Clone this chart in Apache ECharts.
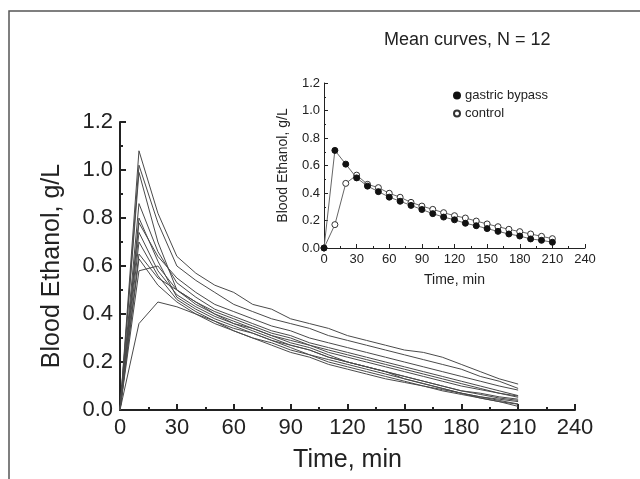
<!DOCTYPE html>
<html><head><meta charset="utf-8">
<script src="https://cdn.jsdelivr.net/npm/echarts@6/dist/echarts.min.js"></script>
<style>html,body{margin:0;padding:0;background:#fff}#c{width:640px;height:479px}</style>
</head><body><div id="c"></div>
<script>
// Sampling times (min)
const times = [0,10,20,30,40,50,60,70,80,90,100,110,120,130,140,150,160,170,180,190,200,210];
// Individual subject curves (g/L)
const subj1  = [0,1.08,0.82,0.64,0.57,0.52,0.49,0.44,0.42,0.38,0.36,0.34,0.31,0.29,0.27,0.25,0.24,0.22,0.19,0.16,0.13,0.108];
const subj2  = [0,1.02,0.78,0.60,0.54,0.49,0.44,0.41,0.38,0.36,0.34,0.31,0.29,0.27,0.25,0.23,0.21,0.19,0.17,0.14,0.12,0.09];
const subj3  = [0,0.99,0.70,0.50,0.45,0.40,0.36,0.34,0.31,0.28,0.26,0.23,0.20,0.18,0.16,0.13,0.11,0.09,0.07,0.05,0.035,0.015];
const subj4  = [0,0.86,0.66,0.53,0.47,0.42,0.39,0.36,0.33,0.31,0.28,0.26,0.24,0.22,0.20,0.18,0.16,0.14,0.12,0.10,0.08,0.06];
const subj5  = [0,0.80,0.62,0.47,0.42,0.38,0.35,0.32,0.29,0.26,0.23,0.21,0.19,0.17,0.15,0.13,0.11,0.09,0.07,0.055,0.04,0.025];
const subj6  = [0,0.78,0.64,0.55,0.49,0.44,0.41,0.38,0.35,0.33,0.30,0.28,0.26,0.24,0.22,0.20,0.18,0.16,0.14,0.12,0.10,0.083];
const subj7  = [0,0.74,0.58,0.48,0.43,0.39,0.36,0.33,0.30,0.27,0.25,0.22,0.20,0.18,0.16,0.14,0.12,0.10,0.08,0.07,0.055,0.045];
const subj8  = [0,0.70,0.56,0.46,0.41,0.37,0.33,0.30,0.27,0.24,0.22,0.19,0.17,0.15,0.13,0.115,0.10,0.08,0.065,0.05,0.035,0.024];
const subj9  = [0,0.65,0.55,0.50,0.45,0.41,0.38,0.35,0.32,0.30,0.27,0.25,0.23,0.21,0.19,0.17,0.15,0.13,0.11,0.09,0.07,0.058];
const subj10 = [0,0.63,0.52,0.45,0.40,0.36,0.33,0.30,0.28,0.25,0.23,0.20,0.18,0.16,0.14,0.12,0.10,0.085,0.07,0.055,0.045,0.035];
const subj11 = [0,0.58,0.60,0.50,0.44,0.40,0.37,0.34,0.31,0.29,0.27,0.24,0.22,0.20,0.18,0.16,0.14,0.12,0.10,0.085,0.07,0.053];
const subj12 = [0,0.36,0.45,0.43,0.40,0.37,0.34,0.32,0.29,0.27,0.25,0.22,0.20,0.18,0.16,0.14,0.12,0.10,0.08,0.065,0.05,0.04];
const subjects = [subj1,subj2,subj3,subj4,subj5,subj6,subj7,subj8,subj9,subj10,subj11,subj12];
// Mean curves (inset)
const bypassMean  = [0,0.71,0.61,0.51,0.45,0.41,0.37,0.34,0.31,0.28,0.25,0.225,0.205,0.18,0.162,0.141,0.121,0.102,0.087,0.066,0.056,0.042];
const controlMean = [0,0.17,0.47,0.53,0.463,0.439,0.398,0.369,0.332,0.305,0.281,0.257,0.235,0.218,0.196,0.175,0.155,0.136,0.119,0.102,0.085,0.068];
const xTicks = {min:0, max:240, interval:30};
const yTicks = {min:0, max:1.2, interval:0.2};

const pairs = v => times.map((t,i)=>[t,v[i]]);
const FONT = '"Liberation Sans", Arial, sans-serif';
const TXT = '#222';

function valAxisX(gi, fs, name, nameFs, gap, lw, tickLen, margin){
  return {type:'value', gridIndex:gi, min:xTicks.min, max:xTicks.max, interval:xTicks.interval,
    name:name, nameLocation:'middle', nameGap:gap,
    nameTextStyle:{fontFamily:FONT, fontSize:nameFs, color:TXT},
    axisLine:{show:true, onZero:false, lineStyle:{color:'#222', width:lw}},
    axisTick:{show:true, inside:true, length:tickLen, lineStyle:{color:'#222', width:lw}},
    minorTick:{show:true, splitNumber:2, length:tickLen/2, lineStyle:{color:'#222', width:lw}},
    axisLabel:{fontFamily:FONT, fontSize:fs, color:TXT, margin:margin, showMinLabel:true, showMaxLabel:true},
    splitLine:{show:false}};
}
function valAxisY(gi, fs, name, nameFs, gap, lw, tickLen, margin){
  return {type:'value', gridIndex:gi, min:yTicks.min, max:yTicks.max, interval:yTicks.interval,
    name:name, nameLocation:'middle', nameGap:gap,
    nameTextStyle:{fontFamily:FONT, fontSize:nameFs, color:TXT},
    axisLine:{show:true, onZero:false, lineStyle:{color:'#222', width:lw}},
    axisTick:{show:true, inside:true, length:tickLen, lineStyle:{color:'#222', width:lw}},
    minorTick:{show:true, splitNumber:2, length:tickLen/2, lineStyle:{color:'#222', width:lw}},
    axisLabel:{fontFamily:FONT, fontSize:fs, color:TXT, margin:margin, formatter:v=>v.toFixed(1), showMinLabel:true, showMaxLabel:true},
    splitLine:{show:false}};
}

const series = subjects.map((s,k)=>({type:'line', xAxisIndex:0, yAxisIndex:0, data:pairs(s),
  showSymbol:false, symbol:'none', lineStyle:{color:'#4a4a4a', width:1}, silent:true, z:2}));
series.push({name:'gastric bypass', type:'line', xAxisIndex:1, yAxisIndex:1, data:pairs(bypassMean),
  symbol:'circle', symbolSize:6, showSymbol:true, itemStyle:{color:'#111', borderColor:'#111', borderWidth:1},
  lineStyle:{color:'#666', width:1}, z:4});
series.push({name:'control', type:'line', xAxisIndex:1, yAxisIndex:1, data:pairs(controlMean),
  symbol:'circle', symbolSize:6, showSymbol:true, itemStyle:{color:'#fff', borderColor:'#333', borderWidth:1},
  lineStyle:{color:'#666', width:1}, z:3});

const chart = echarts.init(document.getElementById('c'), null, {renderer:'canvas'});
chart.setOption({
  animation:false,
  backgroundColor:'#fff',
  textStyle:{fontFamily:FONT},
  graphic:[
    {type:'rect', shape:{x:9, y:11, width:700, height:600}, style:{fill:'none', stroke:'#555', lineWidth:1.5}, z:-1},
    {type:'text', left:384, top:31, style:{text:'Mean curves, N = 12', font:'18px "Liberation Sans", Arial, sans-serif', fill:TXT}}
  ],
  grid:[
    {left:120, right:65, top:122, bottom:69, containLabel:false},
    {left:324, right:55, top:83, bottom:231, containLabel:false}
  ],
  legend:{data:['gastric bypass','control'], orient:'vertical', left:448, top:84, itemWidth:6, itemHeight:6, itemGap:5,
    icon:'circle', textStyle:{fontFamily:FONT, fontSize:13, color:TXT}},
  xAxis:[
    valAxisX(0, 22, 'Time, min', 25, 38, 2, 6, 7),
    valAxisX(1, 13, 'Time, min', 14, 25, 1, 4, 5)
  ],
  yAxis:[
    valAxisY(0, 22, 'Blood Ethanol, g/L', 25, 55, 2, 6, 7),
    valAxisY(1, 13, 'Blood Ethanol, g/L', 14, 34, 1, 4, 4)
  ],
  series:series
});
</script></body></html>
